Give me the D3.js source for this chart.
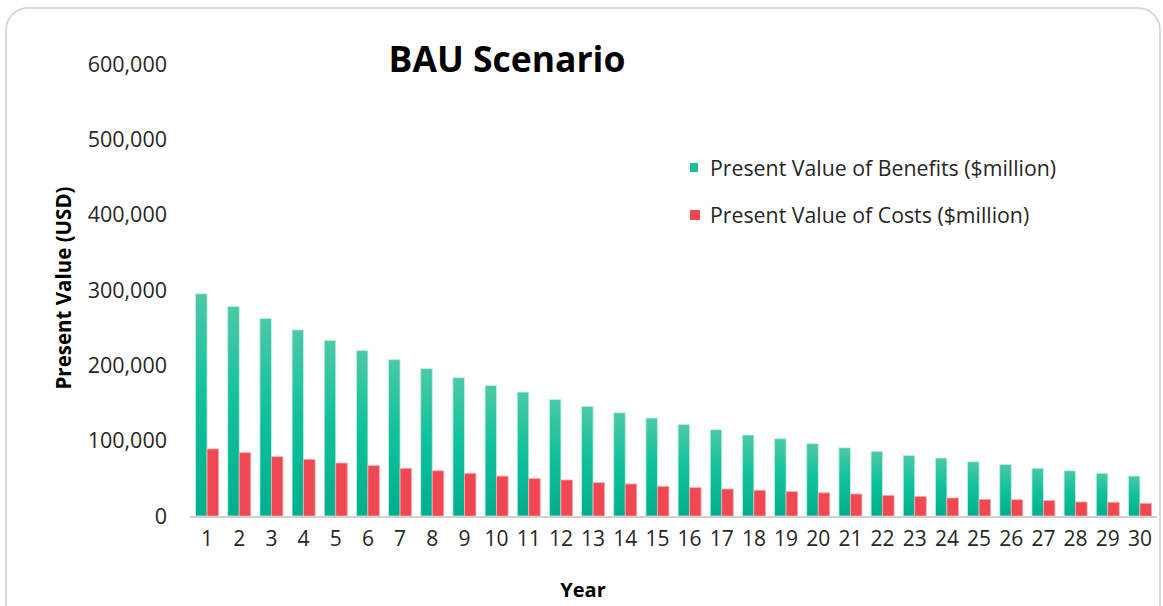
<!DOCTYPE html>
<html>
<head>
<meta charset="utf-8">
<script src="https://cdn.jsdelivr.net/npm/d3@7"></script>
<style>
  body { margin: 0; background: #fff; }
  svg { display: block; font-family: "Open Sans", "Noto Sans", sans-serif; }
</style>
</head>
<body>
<svg id="chart"></svg>
<script>
// data
const years = d3.range(1, 31).map(String);
const benefits = [295000, 278000, 262000, 247000, 233000, 219500, 207500, 195500, 183500, 173000,
                  164500, 154500, 145500, 137000, 130000, 121500, 114500, 107500, 102500, 96000,
                  90500, 85800, 80500, 77000, 72000, 68500, 63300, 60000, 56600, 53000];
const costs = [89000, 84000, 78700, 75200, 70300, 66800, 63300, 60000, 56600, 53000,
               49600, 47800, 44200, 42500, 39400, 37600, 35800, 34100, 32300, 30700,
               29200, 27400, 25700, 23900, 22100, 21600, 20400, 18600, 18200, 16800];
const yTicks = [0, 100000, 200000, 300000, 400000, 500000, 600000];
const seriesNames = ["Present Value of Benefits ($million)", "Present Value of Costs ($million)"];

const width = 1163, height = 606;
const svg = d3.select("#chart").attr("width", width).attr("height", height);

// card
svg.append("rect")
  .attr("x", 6).attr("y", 8)
  .attr("width", 1154).attr("height", 620)
  .attr("rx", 22)
  .attr("fill", "#fff")
  .attr("stroke", "#d9d9d9")
  .attr("stroke-width", 2);

const plot = { left: 191, right: 1156, top: 64, bottom: 516 };

const x = d3.scaleBand().domain(years).range([plot.left, plot.right]).padding(0);
const y = d3.scaleLinear().domain([0, 600000]).range([plot.bottom, plot.top]);

// gradient for benefits
const defs = svg.append("defs");
const grad = defs.append("linearGradient").attr("id", "gGreen")
  .attr("x1", 0).attr("y1", 0).attr("x2", 0).attr("y2", 1);
grad.append("stop").attr("offset", "0%").attr("stop-color", "#4bc9a6");
grad.append("stop").attr("offset", "45%").attr("stop-color", "#12c29c");
grad.append("stop").attr("offset", "100%").attr("stop-color", "#00ae8d");

const barW = 11.5;

// y tick labels (no gridlines)
svg.append("g")
  .selectAll("text")
  .data(yTicks)
  .enter()
  .append("text")
  .attr("x", 167)
  .attr("y", d => y(d))
  .attr("dy", "0.36em")
  .style("text-anchor", "end")
  .attr("font-size", 21.5)
  .attr("fill", "#262626")
  .text(d => d3.format(",")(d));

// bars
svg.append("g")
  .selectAll("rect")
  .data(benefits)
  .enter()
  .append("rect")
  .attr("x", (d, i) => x(years[i]) + x.bandwidth() / 2 - barW)
  .attr("y", d => y(d))
  .attr("width", barW)
  .attr("height", d => y(0) - y(d))
  .attr("fill", "url(#gGreen)")
  .attr("stroke", "#c2efe2")
  .attr("stroke-width", 0.8);

svg.append("g")
  .selectAll("rect")
  .data(costs)
  .enter()
  .append("rect")
  .attr("x", (d, i) => x(years[i]) + x.bandwidth() / 2)
  .attr("y", d => y(d))
  .attr("width", barW)
  .attr("height", d => y(0) - y(d))
  .attr("fill", "#ef4853")
  .attr("stroke", "#f8a9ae")
  .attr("stroke-width", 0.8);

// x axis
const xAxis = svg.append("g")
  .attr("transform", "translate(0," + plot.bottom + ")")
  .call(d3.axisBottom(x).tickSize(0).tickPadding(15));
xAxis.select(".domain").attr("stroke", "#d0d0d0").attr("stroke-width", 2.2)
  .attr("d", "M" + (plot.left - 1) + ",1H" + (plot.right + 1));
xAxis.selectAll("text")
  .attr("font-size", 21)
  .attr("font-family", "'Open Sans', sans-serif")
  .attr("fill", "#262626");

// title
svg.append("text")
  .attr("x", 507)
  .attr("y", 72)
  .style("text-anchor", "middle")
  .attr("font-size", 35.5)
  .attr("font-weight", "bold")
  .attr("fill", "#000")
  .text("BAU Scenario");

// axis titles
svg.append("text")
  .attr("transform", "translate(71,288) rotate(-90)")
  .style("text-anchor", "middle")
  .attr("font-size", 20.5)
  .attr("font-weight", "bold")
  .attr("fill", "#000")
  .text("Present Value (USD)");

svg.append("text")
  .attr("x", 583)
  .attr("y", 597)
  .style("text-anchor", "middle")
  .attr("font-size", 20)
  .attr("font-weight", "bold")
  .attr("fill", "#000")
  .text("Year");

// legend
const legendColors = ["#17c09b", "#ef4853"];
const legend = svg.append("g")
  .selectAll("g")
  .data(seriesNames)
  .enter()
  .append("g")
  .attr("transform", (d, i) => "translate(690," + (168 + i * 47) + ")");
legend.append("rect")
  .attr("x", 0).attr("y", -5)
  .attr("width", (d, i) => i === 0 ? 8 : 10)
  .attr("height", (d, i) => i === 0 ? 9 : 10)
  .attr("fill", (d, i) => legendColors[i]);
legend.append("text")
  .attr("x", 20)
  .attr("dy", "0.36em")
  .attr("font-size", 21.3)
  .attr("fill", "#262626")
  .text(d => d);
</script>
</body>
</html>
